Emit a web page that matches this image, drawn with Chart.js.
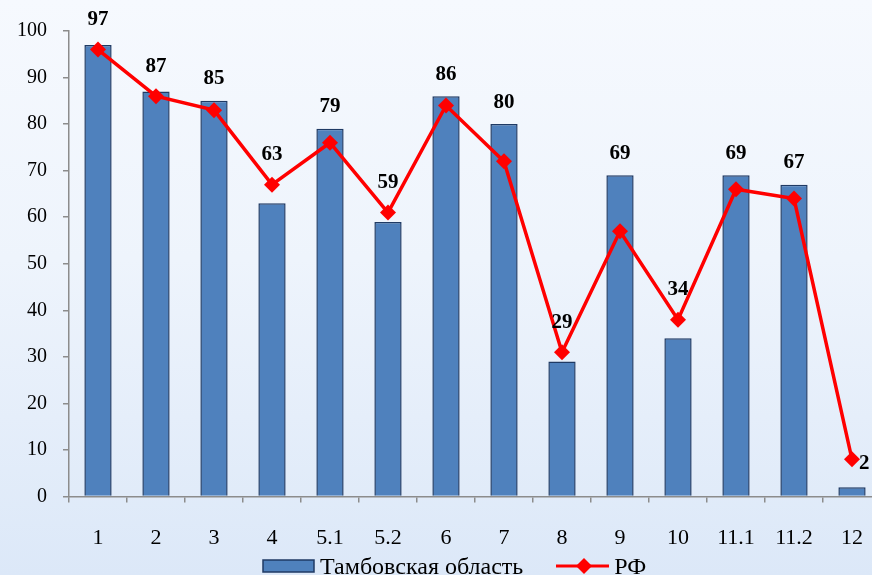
<!DOCTYPE html>
<html>
<head>
<meta charset="utf-8">
<script src="https://cdn.jsdelivr.net/npm/chart.js@4"></script>
<style>
  html, body { margin: 0; padding: 0; }
  body {
    width: 872px; height: 575px; overflow: hidden; position: relative;
    background: linear-gradient(to bottom, #f6f9fe 0%, #eef4fc 45%, #dce8f8 100%);
    font-family: "Liberation Serif", "Times New Roman", serif;
  }
  #wrap { width: 890px; height: 575px; position: relative; }
  #legend {
    position: absolute; left: 262px; top: 554px;
    display: flex; align-items: center;
    font-size: 24px; line-height: 24px; color: #000; white-space: nowrap;
  }
  #legend canvas { display: block; }
  #legend .txt { margin-left: 5px; }
  #legend .gap { width: 33px; }
</style>
</head>
<body>
<div id="wrap"><canvas id="chart"></canvas></div>
<div id="legend"></div>
<script>
const categories = ['1', '2', '3', '4', '5.1', '5.2', '6', '7', '8', '9', '10', '11.1', '11.2', '12'];
const tambovValues = [97, 87, 85, 63, 79, 59, 86, 80, 29, 69, 34, 69, 67, 2];
const rfValues = [96, 86, 83, 67, 76, 61, 84, 72, 31, 57, 38, 66, 64, 8];
const seriesNames = ['Тамбовская область', 'РФ'];

const barColor = '#4f81bd';
const barBorder = '#1f3a64';
const lineColor = '#ff0000';
const axisColor = '#8c8c8c';
const fontFamily = '"Liberation Serif", "Times New Roman", serif';

// legend markers
function barMarker() {
  const c = document.createElement('canvas');
  c.width = 53; c.height = 14;
  const ctx = c.getContext('2d');
  ctx.fillStyle = barColor;
  ctx.fillRect(1, 1, 51, 12);
  ctx.strokeStyle = barBorder;
  ctx.lineWidth = 1.5;
  ctx.strokeRect(1, 1, 51, 12);
  return c;
}

function lineMarker() {
  const c = document.createElement('canvas');
  c.width = 53; c.height = 18;
  const ctx = c.getContext('2d');
  ctx.strokeStyle = lineColor;
  ctx.lineWidth = 3;
  ctx.beginPath();
  ctx.moveTo(0, 9); ctx.lineTo(53, 9);
  ctx.stroke();
  ctx.fillStyle = lineColor;
  ctx.beginPath();
  ctx.moveTo(28, 1); ctx.lineTo(36, 9); ctx.lineTo(28, 17); ctx.lineTo(20, 9);
  ctx.closePath();
  ctx.fill();
  return c;
}

function buildLegend() {
  const legend = document.getElementById('legend');
  const markers = [barMarker(), lineMarker()];
  seriesNames.forEach((name, i) => {
    if (i > 0) {
      const gap = document.createElement('span');
      gap.className = 'gap';
      legend.appendChild(gap);
    }
    legend.appendChild(markers[i]);
    const txt = document.createElement('span');
    txt.className = 'txt';
    txt.textContent = name;
    legend.appendChild(txt);
  });
}

const dataLabels = {
  id: 'dataLabels',
  afterDatasetsDraw(chart) {
    const bars = chart.getDatasetMeta(0).data;
    const points = chart.getDatasetMeta(1).data;
    const ctx = chart.ctx;
    ctx.save();
    ctx.font = 'bold 21px ' + fontFamily;
    ctx.fillStyle = '#000';
    ctx.textBaseline = 'middle';
    bars.forEach((bar, i) => {
      const p = points[i];
      if (i === bars.length - 1) {
        ctx.textAlign = 'left';
        ctx.fillText(tambovValues[i], p.x + 7, p.y + 4);
        return;
      }
      const y = Math.min(bar.y - 22, p.y - 30);
      ctx.textAlign = 'center';
      ctx.fillText(tambovValues[i], bar.x, y);
    });
    ctx.restore();
  }
};

Chart.defaults.font.family = fontFamily;
Chart.defaults.font.size = 20;
Chart.defaults.color = '#000';

new Chart(document.getElementById('chart'), {
  type: 'bar',
  data: {
    labels: categories,
    datasets: [
      {
        type: 'bar',
        label: seriesNames[0],
        data: tambovValues,
        backgroundColor: barColor,
        borderColor: barBorder,
        borderWidth: 1.5,
        barPercentage: 0.47,
        categoryPercentage: 1,
        order: 2
      },
      {
        type: 'line',
        label: seriesNames[1],
        data: rfValues,
        borderColor: lineColor,
        backgroundColor: lineColor,
        borderWidth: 3.5,
        pointStyle: 'rectRot',
        pointRadius: 8,
        pointHoverRadius: 8,
        pointBorderWidth: 0,
        tension: 0,
        order: 1
      }
    ]
  },
  options: {
    responsive: true,
    maintainAspectRatio: false,
    animation: false,
    layout: { padding: { top: 31, right: 9, left: 0, bottom: 2 } },
    plugins: {
      tooltip: { enabled: false },
      legend: { display: false }
    },
    scales: {
      x: {
        border: { color: axisColor, width: 1.5 },
        grid: { display: true, drawOnChartArea: false, tickLength: 6, color: axisColor, lineWidth: 1.5 },
        ticks: { padding: 22, font: { size: 22 }, autoSkip: false, maxRotation: 0 }
      },
      y: {
        min: 0,
        max: 100,
        border: { color: axisColor, width: 1.5 },
        grid: { display: true, drawOnChartArea: false, tickLength: 6, color: axisColor, lineWidth: 1.5 },
        ticks: { stepSize: 10, padding: 16, font: { size: 20 } },
        afterFit(scale) { scale.width = 69; }
      }
    }
  },
  plugins: [dataLabels]
});

buildLegend();
</script>
</body>
</html>
